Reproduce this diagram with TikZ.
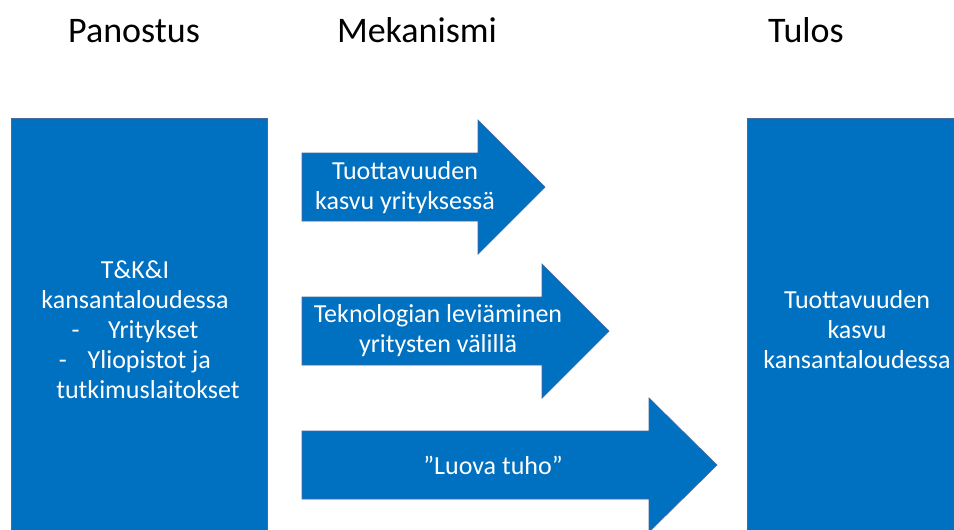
\documentclass[tikz,border=0pt]{standalone}
\usepackage{fontspec}
\setmainfont{Carlito}
\usepackage{tikz}
\definecolor{pptblue}{RGB}{0,112,192}
\definecolor{pptedge}{RGB}{70,105,160}

\begin{document}
\begin{tikzpicture}[x=1pt,y=-1pt,blk/.style={fill=pptblue,draw=pptedge,line width=0.7pt},lab/.style={text=white,align=center,font=\fontsize{26}{30}\selectfont},ttl/.style={anchor=base,font=\fontsize{36}{40}\selectfont}]
\useasboundingbox (0,0) rectangle (954,530);
\node[ttl] (t1) at (134,42) {Panostus};
\node[ttl] (t2) at (417,42) {Mekanismi};
\node[ttl] (t3) at (806,42) {Tulos};
\draw[blk] (11,118) rectangle (267,535) node[pos=0.5,lab,xshift=-4pt,yshift=-3pt] (b1){T\&K\&I\\kansantaloudessa\\-\hspace{1.1em}Yritykset\\-\hspace{0.8em}Yliopistot ja\\\hspace{1em}tutkimuslaitokset};
\draw[blk] (747,118) rectangle (967,535) node[pos=0.5,lab,yshift=-3pt] (b2){Tuottavuuden\\kasvu\\kansantaloudessa};
\foreach \cy/\hx/\tx/\n in {187/478/545/1,331/542/609/2,465/649/717/3}{\draw[blk] (302,\cy-34) -- (\hx,\cy-34) -- (\hx,\cy-67) -- (\tx,\cy) -- (\hx,\cy+67) -- (\hx,\cy+34) -- (302,\cy+34) -- cycle;};
\node[lab] (m1) at (405,188) {Tuottavuuden\\kasvu yrityksessä};
\node[lab] (m2) at (438,331) {Teknologian leviäminen\\yritysten välillä};
\node[lab] (m3) at (493,465) {”Luova tuho”};
\end{tikzpicture}
\end{document}
